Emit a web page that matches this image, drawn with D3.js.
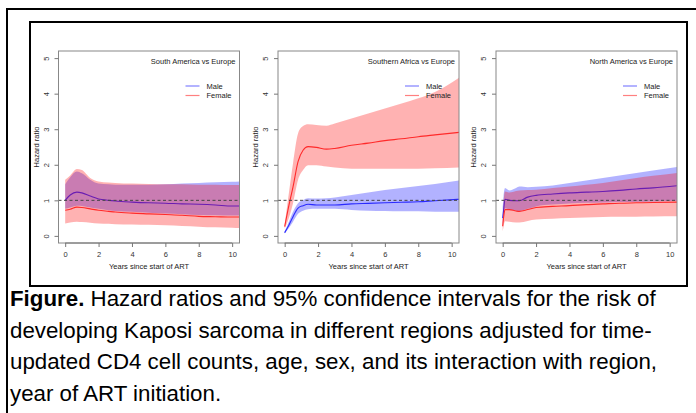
<!DOCTYPE html>
<meta charset="utf-8">
<style>
body { margin: 0; background: #fff; }
svg { display: block; }
.tick-lab { font: 7.5px "Liberation Sans", Arial, sans-serif; fill: #333; }
.lab { font: 7.5px "Liberation Sans", Arial, sans-serif; fill: #222; }
.cap { font: 22.3px "Liberation Sans", Arial, sans-serif; fill: #000; }
</style>
<body>
<script src="https://cdn.jsdelivr.net/npm/d3@7"></script>
<script>

// panel titles
var titles = ["South America vs Europe", "Southern Africa vs Europe", "North America vs Europe"];
var sexes = ["Male", "Female"];
var xTicks = [0, 2, 4, 6, 8, 10],
    yTicks = [0, 1, 2, 3, 4, 5];

// South America vs Europe
var saT        = [0, 0.3, 0.7, 1.0, 1.5, 2, 2.6, 3, 4, 5, 6, 7, 8, 9, 10, 10.44];
var saMale     = [1.0, 1.15, 1.23, 1.21, 1.12, 1.04, 1.0, 0.98, 0.95, 0.93, 0.92, 0.9, 0.89, 0.87, 0.84, 0.84];
var saMaleHi   = [1.45, 1.65, 1.81, 1.76, 1.58, 1.47, 1.45, 1.44, 1.44, 1.44, 1.45, 1.47, 1.49, 1.51, 1.52, 1.53];
var saMaleLo   = [0.76, 0.8, 0.85, 0.84, 0.8, 0.76, 0.72, 0.7, 0.68, 0.65, 0.63, 0.61, 0.59, 0.58, 0.57, 0.57];
var saFemale   = [0.72, 0.75, 0.81, 0.8, 0.76, 0.72, 0.69, 0.67, 0.64, 0.62, 0.6, 0.58, 0.55, 0.54, 0.53, 0.53];
var saFemaleHi = [1.58, 1.7, 1.88, 1.85, 1.63, 1.53, 1.5, 1.49, 1.47, 1.46, 1.45, 1.45, 1.44, 1.44, 1.43, 1.43];
var saFemaleLo = [0.35, 0.38, 0.4, 0.39, 0.37, 0.35, 0.34, 0.33, 0.32, 0.31, 0.3, 0.28, 0.26, 0.24, 0.23, 0.22];

// Southern Africa vs Europe
var afT        = [0, 0.25, 0.5, 0.8, 1.1, 1.4, 1.9, 2.5, 3, 4, 5, 6, 7, 8, 9, 10.44];
var afMale     = [0.09, 0.3, 0.54, 0.78, 0.85, 0.89, 0.87, 0.87, 0.87, 0.9, 0.915, 0.93, 0.945, 0.96, 0.99, 1.03];
var afMaleHi   = [0.12, 0.4, 0.68, 0.92, 1.01, 1.06, 1.05, 1.06, 1.08, 1.15, 1.22, 1.29, 1.35, 1.4, 1.46, 1.56];
var afMaleLo   = [0.07, 0.22, 0.4, 0.62, 0.71, 0.75, 0.76, 0.76, 0.76, 0.73, 0.71, 0.7, 0.69, 0.69, 0.68, 0.68];
var afFemale   = [0.26, 0.85, 1.38, 2.09, 2.41, 2.51, 2.49, 2.44, 2.46, 2.55, 2.61, 2.68, 2.73, 2.79, 2.84, 2.91];
var afFemaleHi = [0.32, 1.2, 2.04, 2.88, 3.09, 3.14, 3.12, 3.1, 3.16, 3.3, 3.44, 3.58, 3.72, 3.87, 4.05, 4.45];
var afFemaleLo = [0.2, 0.5, 0.92, 1.57, 1.85, 1.99, 1.99, 1.95, 1.92, 1.89, 1.89, 1.89, 1.89, 1.89, 1.9, 1.92];

// North America vs Europe
var naT        = [0, 0.05, 0.14, 0.4, 0.8, 1.0, 1.5, 2, 3, 4, 5, 6, 7, 8, 9, 10.44];
var naMale     = [0.5, 0.7, 1.03, 1.0, 0.99, 0.99, 1.09, 1.14, 1.18, 1.21, 1.23, 1.25, 1.28, 1.32, 1.35, 1.41];
var naMaleHi   = [0.8, 1.1, 1.35, 1.28, 1.35, 1.39, 1.37, 1.38, 1.42, 1.49, 1.56, 1.63, 1.7, 1.77, 1.84, 1.94];
var naMaleLo   = [0.3, 0.5, 0.78, 0.74, 0.71, 0.7, 0.76, 0.83, 0.88, 0.91, 0.93, 0.94, 0.95, 0.96, 0.97, 0.98];
var naFemale   = [0.27, 0.5, 0.74, 0.74, 0.7, 0.69, 0.74, 0.8, 0.83, 0.85, 0.88, 0.9, 0.92, 0.93, 0.94, 0.95];
var naFemaleHi = [0.4, 0.9, 1.25, 1.22, 1.26, 1.28, 1.29, 1.3, 1.35, 1.39, 1.44, 1.49, 1.56, 1.63, 1.69, 1.77];
var naFemaleLo = [0.13, 0.25, 0.41, 0.4, 0.38, 0.38, 0.42, 0.46, 0.48, 0.5, 0.52, 0.53, 0.535, 0.54, 0.545, 0.55];

var captionLines = [
  ["Figure.", " Hazard ratios and 95% confidence intervals for the risk of"],
  ["", "developing Kaposi sarcoma in different regions adjusted for time-"],
  ["", "updated CD4 cell counts, age, sex, and its interaction with region,"],
  ["", "year of ART initiation."]
];

function series(t, m, mHi, mLo, f, fHi, fLo) {
  return {
    male: t.map(function(d, i) { return {t: d, v: m[i], hi: mHi[i], lo: mLo[i]}; }),
    female: t.map(function(d, i) { return {t: d, v: f[i], hi: fHi[i], lo: fLo[i]}; })
  };
}

var panels = [
  series(saT, saMale, saMaleHi, saMaleLo, saFemale, saFemaleHi, saFemaleLo),
  series(afT, afMale, afMaleHi, afMaleLo, afFemale, afFemaleHi, afFemaleLo),
  series(naT, naMale, naMaleHi, naMaleLo, naFemale, naFemaleHi, naFemaleLo)
];

var W = 696, H = 413;
var svg = d3.select("body").append("svg").attr("width", W).attr("height", H);

// outer and inner frames
svg.append("rect").attr("x", 7).attr("y", 9).attr("width", 700).attr("height", 420)
    .attr("fill", "none").attr("stroke", "#000").attr("stroke-width", 2);
svg.append("rect").attr("x", 30).attr("y", 22).attr("width", 657).attr("height", 264)
    .attr("fill", "none").attr("stroke", "#000").attr("stroke-width", 2);

var boxLeft = [58.5, 278, 496],
    boxW = 181,
    boxTop = 51,
    boxBottom = 243;

var y = d3.scaleLinear().domain([-0.2, 5.2]).range([boxBottom, boxTop]);

var colMale = "#2a2aff", colFemale = "#ff2a2a";
var bandMale = "rgba(0,0,255,0.3)", bandFemale = "rgba(255,0,0,0.3)";

panels.forEach(function(p, k) {
  var L = boxLeft[k];
  var x = d3.scaleLinear().domain([-0.4, 10.44]).range([L, L + boxW]);
  var g = svg.append("g");

  var clipId = "clip" + k;
  g.append("clipPath").attr("id", clipId).append("rect")
      .attr("x", L).attr("y", boxTop).attr("width", boxW).attr("height", boxBottom - boxTop);
  var plot = g.append("g").attr("clip-path", "url(#" + clipId + ")");

  var area = d3.area().curve(d3.curveMonotoneX)
      .x(function(d) { return x(d.t); })
      .y0(function(d) { return y(d.lo); })
      .y1(function(d) { return y(d.hi); });
  var line = d3.line().curve(d3.curveMonotoneX)
      .x(function(d) { return x(d.t); })
      .y(function(d) { return y(d.v); });

  plot.append("path").datum(p.male).attr("d", area).attr("fill", bandMale);
  plot.append("path").datum(p.male).attr("d", line)
      .attr("fill", "none").attr("stroke", colMale).attr("stroke-width", 1.1);
  plot.append("path").datum(p.female).attr("d", area).attr("fill", bandFemale);
  plot.append("path").datum(p.female).attr("d", line)
      .attr("fill", "none").attr("stroke", colFemale).attr("stroke-width", 1.1);

  plot.append("line")
      .attr("x1", L).attr("x2", L + boxW).attr("y1", y(1)).attr("y2", y(1))
      .attr("stroke", "#444").attr("stroke-width", 1).attr("stroke-dasharray", "3,2.5");

  g.append("rect").attr("x", L).attr("y", boxTop).attr("width", boxW).attr("height", boxBottom - boxTop)
      .attr("fill", "none").attr("stroke", "#888").attr("stroke-width", 1);

  // x axis
  var xa = g.append("g").attr("transform", "translate(0," + boxBottom + ")")
      .call(d3.axisBottom(x).tickValues(xTicks).tickSize(4).tickPadding(5));
  xa.select(".domain").attr("stroke", "#777").attr("d", "M" + x(0) + ",0H" + x(10));
  xa.selectAll(".tick line").attr("stroke", "#777");
  xa.selectAll(".tick text").attr("class", "tick-lab").attr("font-size", null).attr("font-family", null).attr("fill", null);

  // y axis
  var ya = g.append("g").attr("transform", "translate(" + L + ",0)")
      .call(d3.axisLeft(y).tickValues(yTicks).tickFormat(d3.format("d")).tickSize(4).tickPadding(0));
  ya.select(".domain").remove();
  ya.selectAll(".tick line").attr("stroke", "#777");
  ya.selectAll(".tick text").attr("class", "tick-lab").attr("font-size", null).attr("font-family", null).attr("fill", null)
      .attr("transform", "rotate(-90)").attr("x", 0).attr("y", -10).attr("dy", "0").attr("text-anchor", "middle");

  g.append("text").attr("class", "lab")
      .attr("transform", "translate(" + (L - 20) + "," + ((boxTop + boxBottom) / 2) + ") rotate(-90)")
      .attr("text-anchor", "middle").text("Hazard ratio");

  g.append("text").attr("class", "lab")
      .attr("x", L + boxW / 2).attr("y", boxBottom + 26)
      .attr("text-anchor", "middle").text("Years since start of ART");

  g.append("text").attr("class", "lab")
      .attr("x", L + boxW - 4).attr("y", boxTop + 13)
      .attr("text-anchor", "end").text(titles[k]);

  // legend
  var leg = g.selectAll(".leg").data(sexes).enter().append("g")
      .attr("transform", function(d, i) { return "translate(" + (L + boxW - 54) + "," + (boxTop + 35 + i * 9.5) + ")"; });
  leg.append("line").attr("x1", 0).attr("x2", 14).attr("y1", 0).attr("y2", 0)
      .attr("stroke", function(d) { return d == "Male" ? "#8080ff" : "#ff8080"; }).attr("stroke-width", 1.2);
  leg.append("text").attr("class", "lab").attr("x", 21).attr("y", 2.7).text(function(d) { return d; });
});

// caption
var cap = svg.append("g");
captionLines.forEach(function(l, i) {
  var t = cap.append("text").attr("class", "cap").attr("x", 10).attr("y", 306 + i * 31.5);
  if (l[0]) t.append("tspan").attr("font-weight", "bold").text(l[0]);
  t.append("tspan").text(l[1]);
});

</script>
</body>
